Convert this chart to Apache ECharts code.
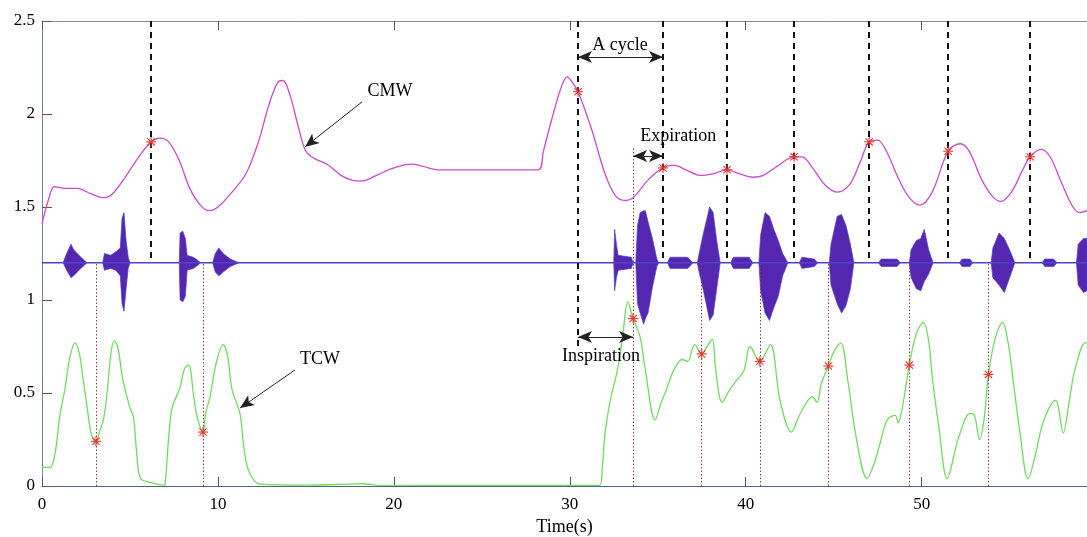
<!DOCTYPE html>
<html><head><meta charset="utf-8">
<script src="https://cdn.jsdelivr.net/npm/echarts@6/dist/echarts.min.js"></script>
<style>html,body{margin:0;padding:0;background:#fff}#c{width:1087px;height:537px}</style>
</head><body><div id="c"></div>
<script>
// ---- data (time in s, amplitude) ----
const cmwData = [[0,1.41],[0.4,1.55],[0.7,1.61],[1.3,1.60],[2.0,1.60],[2.8,1.57],[3.5,1.55],[4.0,1.57],[4.8,1.67],[5.5,1.77],[6.2,1.85],[6.7,1.87],[7.2,1.85],[7.8,1.75],[8.4,1.60],[9.0,1.51],[9.5,1.48],[10.0,1.50],[10.8,1.58],[11.6,1.68],[12.3,1.85],[12.9,2.05],[13.4,2.17],[13.7,2.18],[14.1,2.10],[14.6,1.92],[15.0,1.80],[15.5,1.76],[16.2,1.73],[17.0,1.67],[17.6,1.645],[18.2,1.64],[19.0,1.67],[20.0,1.71],[21.0,1.73],[21.6,1.72],[22.5,1.70],[25,1.70],[28.2,1.70],[28.5,1.80],[29.0,1.98],[29.5,2.14],[29.85,2.20],[30.15,2.17],[30.47,2.12],[31.2,1.93],[32.0,1.68],[32.6,1.56],[33.2,1.535],[33.6,1.55],[34.5,1.65],[35.3,1.71],[35.9,1.725],[36.6,1.70],[37.4,1.67],[38.2,1.68],[38.94,1.70],[39.6,1.68],[40.4,1.66],[41.0,1.67],[41.8,1.72],[42.75,1.77],[43.2,1.77],[43.8,1.71],[44.5,1.62],[45.2,1.58],[45.9,1.62],[46.5,1.74],[47.02,1.85],[47.5,1.86],[48.0,1.80],[48.7,1.65],[49.3,1.55],[49.9,1.51],[50.6,1.58],[51.51,1.80],[52.2,1.84],[52.7,1.80],[53.4,1.65],[54.0,1.56],[54.5,1.53],[55.1,1.58],[55.7,1.69],[56.17,1.77],[56.8,1.81],[57.3,1.77],[58.0,1.62],[58.6,1.50],[59.0,1.47],[59.4,1.48]];

const tcwData = [[0,0.10],[0.45,0.10],[0.75,0.18],[1.0,0.37],[1.3,0.52],[1.6,0.70],[1.9,0.77],[2.15,0.70],[2.3,0.60],[2.6,0.40],[2.8,0.28],[3.05,0.24],[3.3,0.30],[3.5,0.36],[3.7,0.50],[3.9,0.70],[4.1,0.78],[4.3,0.75],[4.6,0.57],[5.0,0.42],[5.2,0.37],[5.4,0.16],[5.6,0.04],[6.1,0.02],[6.9,0.005],[7.0,0.01],[7.2,0.26],[7.4,0.42],[7.85,0.53],[8.1,0.63],[8.35,0.65],[8.6,0.50],[8.8,0.38],[9.15,0.29],[9.3,0.39],[9.55,0.48],[9.9,0.66],[10.3,0.76],[10.55,0.70],[10.8,0.52],[11.25,0.39],[11.5,0.19],[11.8,0.07],[12.4,0.01],[15,0.005],[17.5,0.01],[18.3,0.012],[19,0.005],[25,0.003],[31.7,0.003],[31.85,0.1],[32.0,0.28],[32.3,0.46],[32.7,0.62],[33.0,0.80],[33.3,0.99],[33.6,0.90],[34.0,0.80],[34.3,0.62],[34.85,0.355],[35.2,0.45],[35.5,0.52],[35.9,0.62],[36.4,0.68],[36.7,0.67],[37.1,0.76],[37.5,0.71],[37.8,0.75],[38.1,0.79],[38.3,0.62],[38.66,0.45],[39.1,0.52],[39.5,0.57],[39.9,0.62],[40.25,0.75],[40.8,0.67],[41.4,0.76],[41.95,0.46],[42.6,0.29],[43.1,0.39],[43.8,0.48],[44.05,0.45],[44.3,0.55],[44.7,0.645],[45.0,0.72],[45.4,0.77],[45.8,0.57],[46.3,0.25],[46.9,0.04],[47.3,0.12],[47.64,0.23],[48.04,0.355],[48.5,0.38],[48.66,0.34],[48.9,0.42],[49.3,0.65],[49.7,0.82],[50.1,0.88],[50.4,0.78],[50.6,0.59],[51.0,0.30],[51.45,0.04],[52.1,0.26],[52.76,0.39],[53.0,0.38],[53.3,0.25],[53.55,0.36],[53.8,0.60],[54.2,0.80],[54.6,0.88],[54.9,0.78],[55.2,0.57],[55.6,0.28],[56.05,0.04],[56.5,0.18],[56.9,0.34],[57.6,0.46],[57.75,0.435],[58.05,0.285],[58.4,0.46],[58.7,0.62],[59.3,0.77],[59.4,0.77]];

const soundBaseline = [[0,1.2],[59.4,1.2]];

// each burst: [time, upper envelope, lower envelope]
const soundBursts = [
 [[1.2,1.2,1.2],[1.4,1.25,1.16],[1.65,1.30,1.12],[1.8,1.27,1.13],[2.1,1.24,1.16],[2.55,1.2,1.2]],
 [[3.45,1.2,1.2],[3.55,1.25,1.16],[3.9,1.24,1.17],[4.2,1.26,1.16],[4.45,1.28,1.13],[4.55,1.44,0.98],[4.66,1.47,0.94],[4.78,1.32,1.06],[4.9,1.23,1.17],[5.0,1.2,1.2]],
 [[7.8,1.2,1.2],[7.85,1.36,1.0],[8.0,1.37,0.99],[8.15,1.33,1.02],[8.25,1.24,1.16],[8.6,1.23,1.17],[8.9,1.21,1.19],[9.0,1.2,1.2]],
 [[9.7,1.2,1.2],[9.85,1.25,1.15],[10.05,1.28,1.13],[10.3,1.25,1.15],[10.7,1.22,1.18],[11.2,1.2,1.2]],
 [[32.5,1.2,1.2],[32.55,1.38,1.05],[32.65,1.30,1.12],[32.75,1.24,1.16],[33.5,1.23,1.17],[33.6,1.2,1.2]],
 [[33.75,1.2,1.2],[33.85,1.40,0.98],[34.0,1.47,0.93],[34.2,1.48,0.87],[34.3,1.48,0.90],[34.45,1.42,0.93],[34.7,1.33,1.07],[34.95,1.22,1.18],[35.05,1.2,1.2]],
 [[35.55,1.2,1.2],[35.7,1.23,1.17],[36.7,1.23,1.17],[37.0,1.2,1.2]],
 [[37.25,1.2,1.2],[37.35,1.25,1.15],[37.6,1.36,1.05],[37.95,1.50,0.89],[38.15,1.47,0.92],[38.35,1.32,1.06],[38.55,1.2,1.2]],
 [[39.15,1.2,1.2],[39.3,1.23,1.17],[40.2,1.23,1.17],[40.4,1.2,1.2]],
 [[40.75,1.2,1.2],[40.85,1.35,1.05],[41.1,1.47,0.93],[41.35,1.45,0.89],[41.6,1.38,0.96],[41.85,1.32,1.02],[42.1,1.25,1.13],[42.4,1.2,1.2]],
 [[43.05,1.2,1.2],[43.2,1.23,1.17],[43.9,1.22,1.18],[44.1,1.2,1.2]],
 [[44.75,1.2,1.2],[44.85,1.30,1.08],[45.2,1.45,0.98],[45.45,1.46,0.93],[45.7,1.40,0.97],[45.95,1.30,1.06],[46.15,1.2,1.2]],
 [[47.55,1.2,1.2],[47.7,1.22,1.18],[48.6,1.22,1.18],[48.8,1.2,1.2]],
 [[49.3,1.2,1.2],[49.4,1.27,1.12],[49.7,1.32,1.06],[49.95,1.33,1.05],[50.15,1.38,1.10],[50.4,1.27,1.14],[50.65,1.2,1.2]],
 [[52.15,1.2,1.2],[52.3,1.22,1.18],[52.75,1.22,1.18],[52.9,1.2,1.2]],
 [[53.95,1.2,1.2],[54.05,1.28,1.12],[54.4,1.36,1.08],[54.7,1.33,1.04],[55.0,1.27,1.12],[55.3,1.2,1.2]],
 [[56.85,1.2,1.2],[57.0,1.22,1.18],[57.5,1.22,1.18],[57.7,1.2,1.2]],
 [[58.8,1.2,1.2],[58.9,1.30,1.08],[59.2,1.33,1.04],[59.4,1.33,1.05]]
];

// cycle boundaries (dashed) and CMW markers
const cycleX = [6.2,30.47,35.3,38.94,42.75,47.02,51.51,56.17];
const cycleBottom = [1.2,0.75,1.2,1.2,1.2,1.2,1.2,1.2];
const cmwMarkY = [1.85,2.12,1.71,1.70,1.77,1.85,1.80,1.77];
// TCW minima (dotted) and markers
const tcwMinX = [3.07,9.15,33.6,37.5,40.8,44.7,49.3,53.8];
const tcwMinY = [0.24,0.29,0.90,0.71,0.67,0.645,0.65,0.60];
const tcwLineTop = [1.2,1.2,1.82,1.2,1.2,1.2,1.2,1.2];

// annotations
const noteText = ['CMW','TCW','A cycle','Expiration','Inspiration'];
const noteX = [19.78,15.8,32.86,36.16,31.78];
const noteY = [2.124,0.683,2.371,1.882,0.699];
const singleArrows = [[18.19,2.065,14.95,1.823],[14.38,0.624,11.26,0.419]];
const doubleArrows = [[30.47,2.306,35.30,2.306],[33.6,1.774,35.30,1.774],[30.47,0.801,33.6,0.801]];

const xTickStep = 10, yTickStep = 0.5;
const xMax = 59.4, yMax = 2.5;

const FONT = 'Liberation Serif';
const chart = echarts.init(document.getElementById('c'), null, {renderer:'canvas'});

function starItem(params, api){
  const c = api.coord([api.value(0), api.value(1)]);
  const r = 5, d = r*0.72;
  const segs = [[-r,0,r,0],[0,-r,0,r],[-d,-d,d,d],[-d,d,d,-d]];
  return {type:'group', children: segs.map(s=>({type:'line',
    shape:{x1:c[0]+s[0],y1:c[1]+s[1],x2:c[0]+s[2],y2:c[1]+s[3]},
    style:{stroke:'#e2372b', lineWidth:1.1}}))};
}

const option = {
  animation:false,
  backgroundColor:'#fff',
  grid:{left:42, right:0, top:21, bottom:51, outerBoundsMode:'none', containLabel:false},
  xAxis:[{
    type:'value', min:0, max:xMax, interval:xTickStep,
    name:'Time(s)', nameLocation:'middle', nameGap:32,
    nameTextStyle:{fontFamily:FONT, fontSize:18, color:'#000'},
    axisLine:{lineStyle:{color:'#4d6684', width:1}},
    axisTick:{inside:true, length:9, lineStyle:{color:'#556'}},
    axisLabel:{fontFamily:FONT, fontSize:17, color:'#000', margin:10,
      formatter:v=> (Math.abs(v % xTickStep) < 1e-9 ? String(v) : '')},
    splitLine:{show:false}
  },{
    type:'value', position:'top', min:0, max:xMax, interval:xTickStep,
    axisLine:{lineStyle:{color:'#8a8a8a'}},
    axisTick:{inside:true, length:9, lineStyle:{color:'#556'}},
    axisLabel:{show:false}, splitLine:{show:false}
  }],
  yAxis:{
    type:'value', min:0, max:yMax, interval:yTickStep,
    axisLine:{show:true, lineStyle:{color:'#6f8aa6'}},
    axisTick:{inside:true, length:10, lineStyle:{color:'#8a4a3a'}},
    axisLabel:{fontFamily:FONT, fontSize:17, color:'#000', margin:7},
    splitLine:{show:false}
  },
  series:[
    {type:'custom', name:'sound', clip:true,
     data: soundBursts.map((b,i)=>[b[0][0],1.2,i]),
     encode:{x:0,y:1},
     renderItem:(params, api)=>{
       const b = soundBursts[api.value(2)];
       const top = b.map(p=>api.coord([p[0],p[1]]));
       const bot = b.slice().reverse().map(p=>api.coord([p[0],p[2]]));
       return {type:'polygon', shape:{points:top.concat(bot)},
         style:{fill:'#5527b0', stroke:'#4d3fd0', lineWidth:0.7}};
     }, z:2},
    {type:'line', name:'baseline', data:soundBaseline, symbol:'none',
     lineStyle:{color:'#4b46c8', width:1.4}, z:2},
    {type:'line', name:'CMW', data:cmwData, symbol:'none', smooth:0.35,
     lineStyle:{color:'#c94ccf', width:1.3}, z:3},
    {type:'line', name:'TCW', data:tcwData, symbol:'none', smooth:0.35,
     lineStyle:{color:'#6fdc5e', width:1.3}, z:3},
    {type:'scatter', name:'lines', data:[], silent:true, z:4,
     markLine:{silent:true, symbol:'none', animation:false, label:{show:false},
       lineStyle:{color:'#111', width:2, type:[6,5]},
       data: cycleX.map((x,i)=>[{coord:[x,yMax]},{coord:[x,cycleBottom[i]]}])}},
    {type:'scatter', name:'dots', data:[], silent:true, z:4,
     markLine:{silent:true, symbol:'none', animation:false, label:{show:false},
       lineStyle:{color:'#9a3a3a', width:1, type:[1.5,2]},
       data: tcwMinX.map((x,i)=>[{coord:[x,0]},{coord:[x,tcwLineTop[i]]}])}},
    {type:'custom', name:'cmwMarks', renderItem:starItem, z:6,
     data: cycleX.map((x,i)=>[x,cmwMarkY[i]]), encode:{x:0,y:1}},
    {type:'custom', name:'tcwMarks', renderItem:starItem, z:6,
     data: tcwMinX.map((x,i)=>[x,tcwMinY[i]]), encode:{x:0,y:1}},
    {type:'custom', name:'notes', z:7, silent:true,
     data: noteText.map((t,i)=>[noteX[i],noteY[i],i]), encode:{x:0,y:1},
     renderItem:(params, api)=>{
       const c = api.coord([api.value(0), api.value(1)]);
       return {type:'text', x:c[0], y:c[1], style:{text:noteText[api.value(2)],
         fontFamily:FONT, fontSize:18, fill:'#000', align:'center', verticalAlign:'middle'}};
     }},
    {type:'scatter', name:'singleArrows', data:[], silent:true, z:7,
     markLine:{silent:true, animation:false, symbol:['none','arrow'], symbolSize:[9,14],
       label:{show:false}, lineStyle:{color:'#222', width:1, type:'solid'},
       data: singleArrows.map(a=>[{coord:[a[0],a[1]]},{coord:[a[2],a[3]]}])}},
    {type:'scatter', name:'doubleArrows', data:[], silent:true, z:7,
     markLine:{silent:true, animation:false, symbol:['arrow','arrow'], symbolSize:[9,14],
       label:{show:false}, lineStyle:{color:'#222', width:1, type:'solid'},
       data: doubleArrows.map(a=>[{coord:[a[0],a[1]]},{coord:[a[2],a[3]]}])}}
  ]
};
chart.setOption(option);
</script></body></html>
